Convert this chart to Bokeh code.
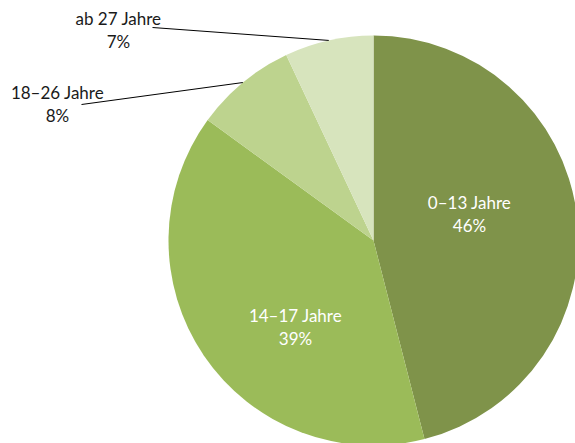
import math
from bokeh.plotting import figure
from bokeh.models import Range1d, ColumnDataSource
from bokeh.core.properties import value
from bokeh.embed import file_html
from bokeh.resources import INLINE

# ---- data ----
categories = ["0–13 Jahre", "14–17 Jahre", "18–26 Jahre", "ab 27 Jahre"]
shares = [46, 39, 8, 7]
colors = ["#7F934A", "#9BBB59", "#BDD38E", "#D7E4BD"]

# ---- layout ----
W, H = 575, 443
CX, CY, R = 373, 203, 205       # pie centre / radius in plot units (1 unit = 1 px)
FONT = "Lato"
FS = "17px"
LINE_GAP = 11.5
# label placement: (dx, dy) from centre; inside labels white, outside labels with leader
label_layout = {
    "0–13 Jahre": {"dx": 96, "dy": 27, "inside": True},
    "14–17 Jahre": {"dx": -78, "dy": -86, "inside": True},
    "18–26 Jahre": {"dx": -316, "dy": 136.5, "inside": False, "lx": -292, "ly": 136},
    "ab 27 Jahre": {"dx": -255, "dy": 210.5, "inside": False, "lx": -221, "ly": 213},
}

total = float(sum(shares))
starts, ends, mids = [], [], []
cum = 0.0
for s in shares:
    a0 = math.pi / 2 - 2 * math.pi * cum / total
    cum += s
    a1 = math.pi / 2 - 2 * math.pi * cum / total
    starts.append(a1)
    ends.append(a0)
    mids.append((a0 + a1) / 2)

p = figure(width=W, height=H, output_backend="svg", toolbar_location=None,
           x_range=Range1d(0, W), y_range=Range1d(0, H), min_border=0)
p.axis.visible = False
p.grid.visible = False
p.outline_line_color = None
p.background_fill_color = "white"
p.border_fill_color = "white"

src = ColumnDataSource(dict(x=[CX] * len(shares), y=[CY] * len(shares),
                            start=starts, end=ends, color=colors))
p.wedge(x="x", y="y", radius=R, start_angle="start", end_angle="end",
        fill_color="color", line_color=None, source=src)

for cat, share, mid in zip(categories, shares, mids):
    lay = label_layout[cat]
    tx, ty = CX + lay["dx"], CY + lay["dy"]
    col = "white" if lay["inside"] else "#1a1a1a"
    p.text(x=[tx, tx], y=[ty + LINE_GAP, ty - LINE_GAP],
           text=[cat, f"{share}%"], text_align="center", text_baseline="middle",
           text_font=value(FONT), text_font_size=FS, text_color=col)
    if not lay["inside"]:
        ex, ey = CX + R * math.cos(mid), CY + R * math.sin(mid)
        p.line(x=[CX + lay["lx"], ex], y=[CY + lay["ly"], ey],
               line_color="black", line_width=1)

open("out.html", "w").write(file_html(p, INLINE))
